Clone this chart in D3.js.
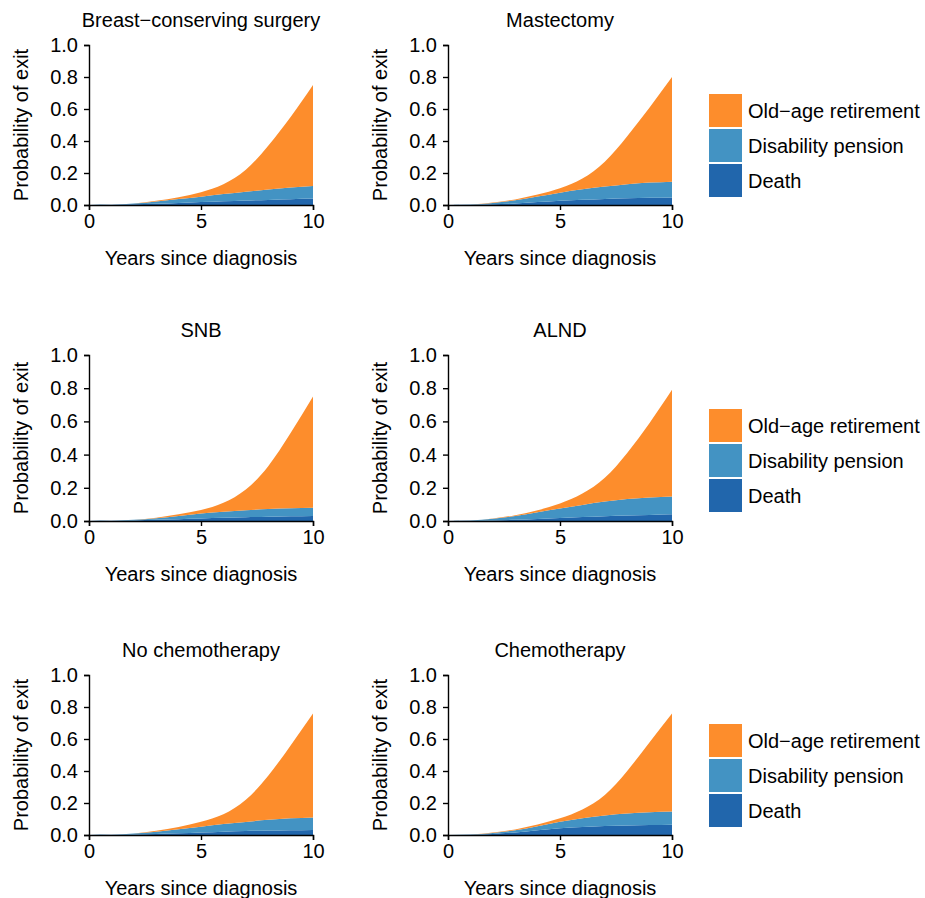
<!DOCTYPE html>
<html><head><meta charset="utf-8">
<script src="https://cdn.jsdelivr.net/npm/d3@7"></script>
<style>body{margin:0;background:#fff}svg{display:block;font-family:"Liberation Sans",Arial,sans-serif}</style>
</head><body><svg id="c" width="925" height="898"></svg>
<script>
const years = [0,1,2,3,4,5,6,7,8,9,10];
const causes = ["death","disability","retirement"];
const causeLabels = ["Death","Disability pension","Old\u2212age retirement"];
const colors = {death:"#2166ac", disability:"#4393c3", retirement:"#fd8d2c"};
const xTicks = [0,5,10];
const yTicks = [0,0.2,0.4,0.6,0.8,1.0];

const titles = ["Breast\u2212conserving surgery","Mastectomy","SNB","ALND","No chemotherapy","Chemotherapy"];

const bcsDeath = [0,0.001,0.004,0.008,0.013,0.018,0.023,0.028,0.032,0.036,0.04];
const bcsDisab = [0,0.001,0.005,0.014,0.024,0.034,0.045,0.055,0.065,0.073,0.078];
const bcsRetire = [0,0,0.001,0.004,0.011,0.028,0.062,0.137,0.273,0.441,0.632];

const mastDeath = [0,0.001,0.004,0.009,0.018,0.027,0.033,0.038,0.042,0.045,0.047];
const mastDisab = [0,0.002,0.009,0.021,0.035,0.05,0.065,0.077,0.088,0.095,0.099];
const mastRetire = [0,0,0.002,0.005,0.012,0.027,0.067,0.155,0.30,0.47,0.654];

const snbDeath = [0,0.001,0.003,0.007,0.011,0.015,0.019,0.023,0.026,0.028,0.03];
const snbDisab = [0,0.001,0.004,0.01,0.019,0.03,0.037,0.042,0.046,0.049,0.05];
const snbRetire = [0,0,0.001,0.003,0.01,0.021,0.054,0.125,0.258,0.453,0.67];

const alndDeath = [0,0.001,0.003,0.007,0.012,0.018,0.024,0.029,0.033,0.036,0.04];
const alndDisab = [0,0.002,0.01,0.023,0.041,0.058,0.073,0.088,0.099,0.106,0.108];
const alndRetire = [0,0,0.002,0.005,0.012,0.029,0.068,0.143,0.278,0.448,0.642];

const noChemoDeath = [0,0.001,0.003,0.007,0.011,0.016,0.021,0.025,0.028,0.03,0.032];
const noChemoDisab = [0,0.001,0.006,0.014,0.025,0.036,0.047,0.057,0.067,0.074,0.078];
const noChemoRetire = [0,0,0.001,0.005,0.014,0.031,0.062,0.138,0.275,0.456,0.65];

const chemoDeath = [0,0.002,0.007,0.016,0.03,0.042,0.05,0.056,0.06,0.062,0.064];
const chemoDisab = [0,0.001,0.006,0.014,0.025,0.041,0.055,0.066,0.074,0.08,0.083];
const chemoRetire = [0,0,0.002,0.005,0.01,0.021,0.055,0.128,0.266,0.438,0.613];

const panelSeries = [
  [bcsDeath,bcsDisab,bcsRetire],
  [mastDeath,mastDisab,mastRetire],
  [snbDeath,snbDisab,snbRetire],
  [alndDeath,alndDisab,alndRetire],
  [noChemoDeath,noChemoDisab,noChemoRetire],
  [chemoDeath,chemoDisab,chemoRetire]
];

const svg = d3.select("#c");
const colX = [[89,313],[448,672]];
const rowY = [[45,205],[355,521],[675,835]];
const FS = 20;

panelSeries.forEach((ser, i) => {
  const col = i % 2, row = Math.floor(i / 2);
  const x = d3.scaleLinear().domain([0,10]).range(colX[col]);
  const y = d3.scaleLinear().domain([0,1]).range([rowY[row][1], rowY[row][0]]);
  const table = years.map((yr, j) => ({year: yr, death: ser[0][j], disability: ser[1][j], retirement: ser[2][j]}));
  const stacked = d3.stack().keys(causes)(table);
  const area = d3.area().x(d => x(d.data.year)).y0(d => y(d[0])).y1(d => y(d[1])).curve(d3.curveNatural);
  const g = svg.append("g");
  const clipId = "clip" + i;
  g.append("clipPath").attr("id", clipId).append("rect")
    .attr("x", colX[col][0]).attr("y", rowY[row][0]).attr("width", colX[col][1]-colX[col][0]).attr("height", rowY[row][1]-rowY[row][0]);
  g.append("g").attr("clip-path", `url(#${clipId})`)
    .selectAll("path.a").data(stacked).join("path").attr("class","a")
    .attr("d", area).attr("fill", d => colors[d.key]);
  const xAxis = d3.axisBottom(x).tickValues(xTicks).tickFormat(d3.format("d")).tickSizeOuter(0).tickSize(5).tickPadding(4);
  const yAxis = d3.axisLeft(y).tickValues(yTicks).tickFormat(d3.format(".1f")).tickSizeOuter(0).tickSize(5).tickPadding(6);
  const gx = g.append("g").attr("transform",`translate(0,${rowY[row][1]})`).call(xAxis);
  const gy = g.append("g").attr("transform",`translate(${colX[col][0]},0)`).call(yAxis);
  [gx, gy].forEach(a => {
    a.selectAll("path,line").attr("stroke","#000").attr("stroke-width",1.4);
    a.selectAll("text").attr("font-size",FS).attr("fill","#000").attr("font-family","Liberation Sans, Arial, sans-serif");
  });
  const cx = (colX[col][0] + colX[col][1]) / 2;
  g.append("text").attr("x", cx).attr("y", rowY[row][0] - 18).attr("text-anchor","middle")
    .attr("font-size",FS).text(titles[i]);
  g.append("text").attr("x", cx).attr("y", rowY[row][1] + 60).attr("text-anchor","middle")
    .attr("font-size",FS).text("Years since diagnosis");
  const cy = (rowY[row][0] + rowY[row][1]) / 2;
  g.append("text").attr("transform",`translate(${colX[col][0]-61},${cy}) rotate(-90)`)
    .attr("text-anchor","middle").attr("font-size",FS).text("Probability of exit");

  if (col === 1) {
    const lg = svg.append("g");
    const top = rowY[row][0] + 49 + (row===1?5:0);
    const order = ["retirement","disability","death"];
    const labs = [causeLabels[2], causeLabels[1], causeLabels[0]];
    order.forEach((k, j) => {
      lg.append("rect").attr("x",709).attr("y", top + j*35).attr("width",33).attr("height",33).attr("fill",colors[k]);
      lg.append("text").attr("x",748).attr("y", top + j*35 + 24).attr("font-size",FS).text(labs[j]);
    });
  }
});
</script></body></html>
